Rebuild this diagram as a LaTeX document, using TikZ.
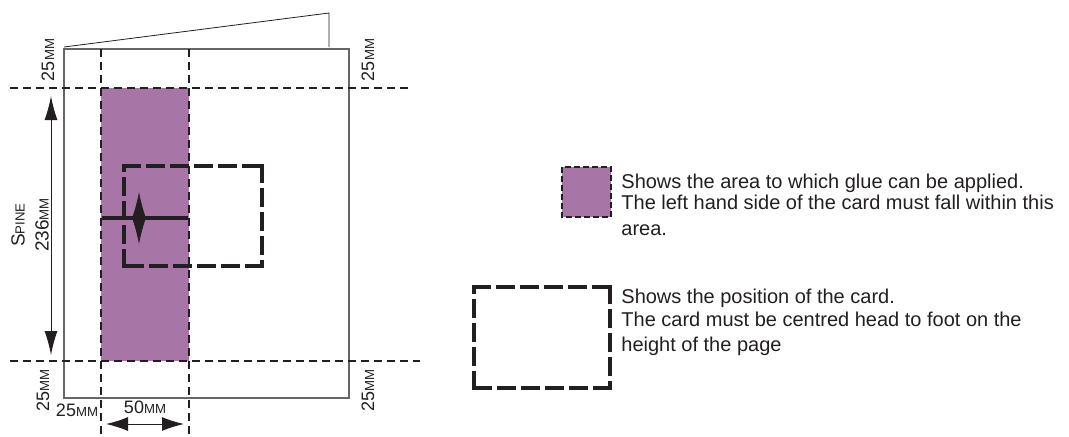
\documentclass[tikz,border=0pt]{standalone}
\usepackage{fontspec}
\setmainfont{Liberation Sans}
\usetikzlibrary{arrows.meta,decorations}
\definecolor{gluepurple}{RGB}{167,118,166}
\definecolor{inkgrey}{RGB}{35,31,32}
\newcommand\smcap[1]{{\fontsize{6.6}{7}\selectfont #1}}
\newcommand\mmlabel[1]{#1\smcap{MM}}
\tikzset{
  guide/.style={draw=inkgrey,line width=1pt,dash pattern=on 4pt off 2.5pt},
  cardedge/.style={draw=inkgrey,line width=2pt,line cap=rect,dash expand off,dash pattern=on 7.5pt off 4.5pt},
  dimarrow/.style={draw=inkgrey,line width=0.5pt,{Latex[length=12pt,width=6.5pt]}-{Latex[length=12pt,width=6.5pt]}},
  dimtext/.style={text=inkgrey,font=\fontsize{9}{10}\selectfont,inner sep=0pt},
  legendtext/.style={text=inkgrey,font=\fontsize{10}{11.5}\selectfont,align=left,inner sep=0pt,anchor=north west}
}
\begin{document}
\begin{tikzpicture}[x=0.5pt,y=-0.5pt]
        \useasboundingbox (0,0) rectangle (1069,436);
        %% glue area and page
        \fill[gluepurple] (101,88) rectangle (189,361);
        \draw[inkgrey,line width=0.4pt] (64,47) -- (329,13) -- (329,47);
        \draw[gray!80!black,line width=0.7pt] (64,49) rectangle (349,398);
        %% margin guides
        \draw[guide] (10,88) -- (412,88);
        \draw[guide] (10,361) -- (420,361);
        \draw[guide] (101,49) -- (101,436);
        \draw[guide] (189,49) -- (189,436);
        %% card position
        \foreach \xa/\ya/\xb/\yb in {124/166/262/166, 262/166/262/266, 262/266/124/266, 124/266/124/166}
            \draw[cardedge] (\xa,\ya) -- (\xb,\yb);
        \draw[inkgrey,line width=1.7pt] (102,218) -- (188,218);
        \coordinate (cardTop) at (139,192);
        \coordinate (cardBot) at (139,244);
        \draw[draw=inkgrey,line width=0.4pt,{Latex[length=13pt,width=7pt]}-{Latex[length=13pt,width=7pt]}] (cardTop) -- (cardBot);
        %% spine dimension
        \coordinate (spineTop) at (51,96);
        \coordinate (spineBot) at (51,355);
        \draw[dimarrow] (spineTop) -- (spineBot);
        \node[dimtext,rotate=90,font=\fontsize{9.5}{10}\selectfont] (spineName) at (18,225) {S\smcap{PINE}};
        \node[dimtext,rotate=90,font=\fontsize{9.5}{10}\selectfont] (spineLen) at (42,225) {\mmlabel{236}};
        %% margin labels
        \node[dimtext,rotate=90] (topLeft) at (48,60) {\mmlabel{25}};
        \node[dimtext,rotate=90] (topRight) at (368,60) {\mmlabel{25}};
        \node[dimtext,rotate=90] (botLeft) at (43,390) {\mmlabel{25}};
        \node[dimtext,rotate=90] (botRight) at (368,390) {\mmlabel{25}};
        \node[dimtext] (leftMargin) at (77,410) {\mmlabel{25}};
        \node[dimtext] (glueWidth) at (145,407) {\mmlabel{50}};
        \coordinate (widthL) at (106,424);
        \coordinate (widthR) at (184,424);
        \draw[dimarrow,{Latex[length=11pt,width=7pt]}-{Latex[length=11pt,width=7pt]}] (widthL) -- (widthR);
        %% legend
        \fill[gluepurple] (562,167) rectangle (611,217);
        \draw[inkgrey,line width=0.75pt,dash pattern=on 3pt off 1.5pt] (562,167) rectangle (611,217);
        \node[legendtext] (glueText) at (621,174) {Shows the area to which glue can be applied.\\[-1pt]
            The left hand side of the card must fall within this\\[1.5pt] area.};
        \foreach \xa/\ya/\xb/\yb in {474/287/610/287, 610/287/610/388, 610/388/474/388, 474/388/474/287}
            \draw[cardedge] (\xa,\ya) -- (\xb,\yb);
        \node[legendtext] (cardText) at (621,289) {Shows the position of the card.\\
            The card must be centred head to foot on the\\[1pt] height of the page};
\end{tikzpicture}
\end{document}
